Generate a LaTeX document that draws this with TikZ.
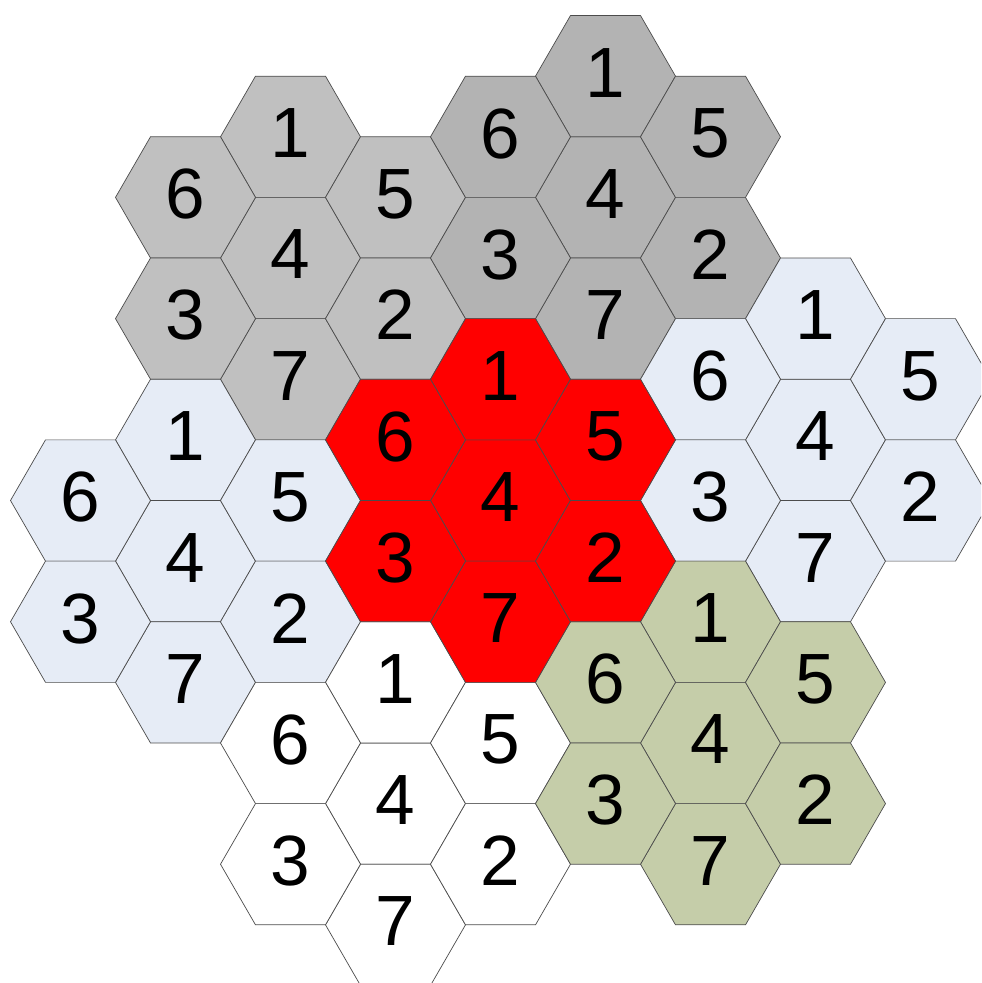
\documentclass[tikz,border=0pt]{standalone}
\usepackage{fontspec}
\setmainfont{Liberation Sans}
\usetikzlibrary{shapes.geometric}

\definecolor{hexred}{HTML}{FF0000}
\definecolor{hexgrayl}{HTML}{C0C0C0}
\definecolor{hexgrayd}{HTML}{B3B3B3}
\definecolor{hexblue}{HTML}{E6ECF6}
\definecolor{hexgreen}{HTML}{C5CDA9}

\begin{document}
\begin{tikzpicture}[
    hexcell/.style={regular polygon, regular polygon sides=6, minimum size=2.8cm,
      inner sep=0pt, outer sep=0pt, draw=black!70, line width=0.4pt,
      text depth=0.14cm, font=\fontsize{40.5}{48}\selectfont}]
  \def\a{2.1}
  \def\h{1.2124}
  \useasboundingbox (-10.01,-9.65) rectangle (9.61,10.01);
  \clip (-10.01,-9.65) rectangle (9.61,10.01);
  \foreach \cx/\cy/\cl/\col in {
    -2/4/grayl/hexgrayl, 1/5/grayd/hexgrayd, 3/1/bluer/hexblue,
    -3/-1/bluel/hexblue, -1/-5/white/white, 2/-4/green/hexgreen, 0/0/red/hexred}
  {
    \foreach \dx/\dy/\num in {0/0/4, 0/2/1, 0/-2/7, -1/1/6, -1/-1/3, 1/1/5, 1/-1/2}
      \node[hexcell, fill=\col] (\cl\num) at ({(\cx+\dx)*\a},{(\cy+\dy)*\h}) {\num};
  }
\end{tikzpicture}
\end{document}
